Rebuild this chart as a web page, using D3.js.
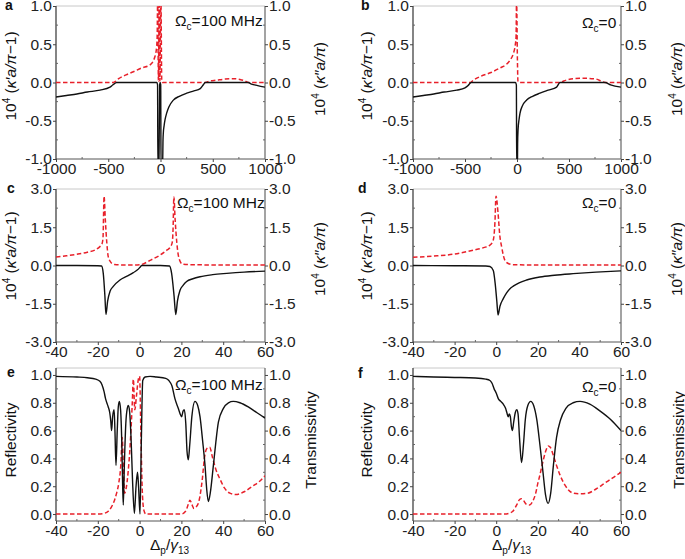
<!DOCTYPE html>
<html><head><meta charset="utf-8">
<script src="https://cdn.jsdelivr.net/npm/d3@7"></script>
<style>body{margin:0;background:#fff}svg{display:block}</style>
</head><body><svg id="c" width="685" height="559"></svg>
<script>
// ---------- tick labels ----------
const kappaXTicks = [-1000, -500, 0, 500, 1000];
const kappaYTicks = [-1, -0.5, 0, 0.5, 1];
const detXTicks = [-40, -20, 0, 20, 40, 60];
const cdYTicks = [-3, -1.5, 0, 1.5, 3];
const efYTicks = [0, 0.2, 0.4, 0.6, 0.8, 1.0];

// ---------- series: [x, y] ----------
const aReal = [[-1000,-0.19],[-900,-0.17],[-800,-0.15],[-700,-0.125],[-579,-0.1],[-483,-0.06],[-455,-0.03],[-435,-0.01],[-420,0],[-300,0],[-100,0],[-35,0],[-28,-0.03],[-25,-1.1],[-15,-1.1],[-8,-0.03],[-3,0],[2,-0.03],[5,-1.1],[20,-1.1],[24,-0.75],[27,-0.66],[35,-0.56],[43,-0.49],[59,-0.40],[80,-0.32],[123,-0.23],[180,-0.18],[251,-0.14],[320,-0.11],[380,-0.08],[410,-0.03],[428,0],[600,0],[840,0],[870,-0.02],[930,-0.04],[1000,-0.06]];
const aImag = [[-1000,0],[-600,0],[-450,0],[-435,0.01],[-400,0.05],[-330,0.1],[-260,0.14],[-180,0.19],[-100,0.23],[-53,0.34],[-37,0.47],[-32,0.6],[-27,1.1],[-20,0.02],[-12,1.1],[-6,0.02],[4,1.1],[12,0.02],[20,0],[100,0],[300,0],[428,0],[460,0.015],[538,0.03],[620,0.045],[697,0.05],[760,0.04],[810,0.02],[840,0],[1000,0]];
const bReal = [[-1000,-0.19],[-900,-0.17],[-800,-0.15],[-700,-0.125],[-579,-0.1],[-500,-0.07],[-470,-0.04],[-452,-0.01],[-440,0],[-300,0],[-100,0],[-15,0],[-6,-0.03],[-3,-1.1],[4,-1.1],[6,-0.8],[10,-0.62],[20,-0.48],[29,-0.40],[50,-0.31],[93,-0.23],[150,-0.18],[221,-0.14],[300,-0.10],[381,-0.06],[413,0],[600,0],[846,0],[900,-0.03],[1000,-0.06]];
const bImag = [[-1000,0],[-600,0],[-450,0],[-420,0.03],[-350,0.08],[-250,0.13],[-163,0.19],[-100,0.24],[-67,0.29],[-35,0.38],[-19,0.47],[-9,0.6],[-4,1.1],[4,0.3],[9,0.02],[20,0],[413,0],[450,0.02],[541,0.05],[650,0.055],[760,0.045],[846,0.0],[1000,0]];
const cReal = [[-40,0.0],[-30,0],[-20,-0.01],[-18.2,-0.02],[-17.4,-0.3],[-16.6,-1.2],[-16.1,-1.92],[-15.3,-1.4],[-14.1,-1.0],[-12.7,-0.83],[-9.4,-0.57],[-6,-0.42],[-3,-0.28],[-1,-0.17],[0.2,-0.07],[1,0],[10,0],[14.3,-0.02],[15.3,-0.3],[16.5,-1.2],[17.3,-1.92],[18.1,-1.4],[19.3,-0.98],[20.8,-0.78],[22.5,-0.63],[25.5,-0.52],[28.9,-0.44],[35,-0.36],[41.7,-0.31],[50,-0.26],[60,-0.22]];
const cImag = [[-40,0.33],[-35,0.38],[-30,0.44],[-25,0.52],[-21,0.62],[-19,0.74],[-18,0.84],[-17.5,1.1],[-17,2.72],[-16.4,1.8],[-15.7,0.9],[-15,0.35],[-13.5,0.1],[-12,0.04],[-8,0.02],[-3,0.02],[0.2,0.03],[5,0.2],[9.8,0.41],[13,0.6],[14.5,0.7],[15.6,0.9],[16,1.4],[16.4,2.7],[17,1.8],[17.8,0.9],[18.8,0.3],[20.4,0.06],[25,0.03],[40,0.02],[60,0.02]];
const dReal = [[-40,0.0],[-20,-0.01],[-5,-0.02],[-3,-0.04],[-1.4,-0.2],[-0.5,-0.7],[0.3,-1.4],[0.9,-1.94],[1.8,-1.6],[3.4,-1.3],[5,-1.07],[6.5,-0.92],[8.2,-0.81],[11,-0.68],[14.6,-0.57],[21,-0.45],[28,-0.38],[37,-0.32],[48,-0.26],[60,-0.21]];
const dImag = [[-40,0.32],[-30,0.37],[-20,0.45],[-11,0.6],[-6,0.7],[-3,0.8],[-1.4,1.0],[-0.6,1.7],[-0.1,2.72],[0.9,2.05],[1.7,1.2],[2.6,0.74],[4.2,0.2],[6,0.07],[8.2,0.03],[20,0.02],[60,0.02]];
const eReal = [[-40,0.99],[-30,0.985],[-25,0.98],[-21,0.97],[-19,0.955],[-18,0.93],[-17,0.88],[-16.3,0.83],[-15.7,0.8],[-15,0.77],[-14.3,0.73],[-13.8,0.67],[-13.4,0.6],[-12.9,0.7],[-12.2,0.75],[-11.8,0.6],[-11.3,0.35],[-10.7,0.6],[-10.2,0.77],[-9.7,0.81],[-9.1,0.75],[-8.5,0.5],[-8.1,0.2],[-7.8,0.065],[-7.3,0.35],[-6.6,0.65],[-5.9,0.76],[-5.4,0.78],[-4.8,0.74],[-4.1,0.55],[-3.4,0.25],[-2.5,0.005],[-1.7,0.2],[-1.0,0.3],[-0.5,0.2],[0.2,0.0],[0.8,0.5],[1.5,0.96],[2.6,0.985],[5,0.99],[8,0.985],[12.5,0.975],[14,0.96],[15.5,0.92],[16.9,0.83],[18.5,0.76],[19.4,0.72],[20.1,0.7],[20.8,0.74],[21.4,0.75],[22.1,0.65],[22.7,0.45],[23.3,0.39],[24,0.5],[25,0.7],[26.5,0.81],[27.8,0.78],[28.9,0.7],[30.2,0.52],[31.3,0.35],[32.1,0.18],[32.9,0.09],[33.8,0.15],[35.3,0.35],[36.5,0.52],[37.7,0.66],[40.1,0.76],[42.5,0.8],[44.8,0.81],[48,0.8],[52,0.77],[56,0.73],[60,0.69]];
const eImag = [[-40,0],[-20,0],[-17,0.005],[-15,0.02],[-13.5,0.05],[-12,0.1],[-11,0.15],[-10,0.22],[-9,0.35],[-8.3,0.55],[-7.8,0.35],[-7.2,0.15],[-6.5,0.18],[-5.5,0.3],[-4.5,0.5],[-3.5,0.8],[-3,0.97],[-2.3,0.75],[-1.5,0.85],[-0.8,0.95],[0,0.99],[0.6,0.6],[1.2,0.2],[2,0.03],[3,0],[20,0],[22,0.02],[23.3,0.07],[24.1,0.1],[25,0.07],[26,0.04],[27,0.05],[28.5,0.1],[30,0.25],[31,0.4],[32.1,0.47],[33.5,0.48],[35,0.4],[36.5,0.32],[38.5,0.25],[40.5,0.19],[43.2,0.15],[46,0.14],[50,0.16],[54,0.2],[57,0.23],[60,0.275]];
const fReal = [[-40,0.99],[-30,0.985],[-20,0.982],[-10,0.978],[-5,0.97],[-3,0.96],[-2,0.94],[-1,0.9],[0,0.87],[1,0.83],[2.2,0.81],[3.4,0.79],[4.5,0.76],[5.3,0.72],[5.8,0.70],[6.3,0.72],[6.8,0.70],[7.3,0.63],[7.8,0.60],[8.4,0.66],[9.2,0.73],[9.9,0.75],[10.5,0.72],[11.2,0.55],[12.2,0.37],[13.1,0.5],[14,0.68],[15.2,0.78],[16.6,0.81],[18,0.78],[19.5,0.68],[21,0.5],[22.5,0.3],[23.7,0.14],[25,0.077],[26.2,0.15],[27.5,0.35],[29,0.55],[31,0.68],[33.5,0.76],[37,0.8],[40.3,0.81],[45,0.79],[50,0.74],[55,0.68],[60,0.6]];
const fImag = [[-40,0],[0,0],[4,0],[6,0.005],[8,0.02],[10,0.07],[11,0.1],[12,0.11],[13,0.1],[14.5,0.07],[16,0.065],[17.5,0.09],[19,0.15],[20,0.22],[21,0.28],[22.5,0.38],[24,0.46],[25,0.49],[26,0.48],[27.5,0.42],[29,0.35],[30.7,0.28],[33,0.21],[37,0.15],[40,0.145],[44,0.15],[48,0.18],[52,0.22],[56,0.26],[60,0.3]];

// ---------- layout ----------
const FONT = "Arial, 'Liberation Sans', Helvetica, sans-serif";
const TICKFONT = "'Liberation Sans Narrow', 'Arial Narrow', Arial, 'Liberation Sans', sans-serif";
const RED = "#e8202a";
const svg = d3.select("#c").style("font-family", FONT);

const panels = [
  {id:"a", L:56, R:265, T:6, B:159, xd:[-1000,1000], yd:[-1,1], xt:kappaXTicks, yt:kappaYTicks, xm:250, ym:0.25, k:aReal, r:aImag, kind:"kappa", om:"100 MHz", letter:[5,10], lab:[16,76,325,79], omPos:[175,26]},
  {id:"b", L:413, R:621, T:6, B:159, xd:[-1000,1000], yd:[-1,1], xt:kappaXTicks, yt:kappaYTicks, xm:250, ym:0.25, k:bReal, r:bImag, kind:"kappa", om:"0", letter:[361,10], lab:[372,76,682,79], omPos:[582,28]},
  {id:"c", L:56, R:265, T:189, B:342, xd:[-40,60], yd:[-3,3], xt:detXTicks, yt:cdYTicks, xm:10, ym:0.75, k:cReal, r:cImag, kind:"kappa", om:"100 MHz", letter:[7,193], lab:[16,256,325,259], omPos:[177,208]},
  {id:"d", L:413, R:621, T:189, B:342, xd:[-40,60], yd:[-3,3], xt:detXTicks, yt:cdYTicks, xm:10, ym:0.75, k:dReal, r:dImag, kind:"kappa", om:"0", letter:[358,193], lab:[372,256,682,259], omPos:[582,208]},
  {id:"e", L:56, R:265, T:368, B:521, xd:[-40,60], yd:[-0.05,1.05], xt:detXTicks, yt:efYTicks, xm:10, ym:0.1, k:eReal, r:eImag, kind:"rt", om:"100 MHz", letter:[7,377], lab:[16,440,316,440], omPos:[175,390], xlab:150},
  {id:"f", L:413, R:621, T:368, B:521, xd:[-40,60], yd:[-0.05,1.05], xt:detXTicks, yt:efYTicks, xm:10, ym:0.1, k:fReal, r:fImag, kind:"rt", om:"0", letter:[358,378], lab:[372,440,684,440], omPos:[582,392], xlab:492}
];

const fmtY = d => d.toFixed(1);
const fmtX = d => String(d);

panels.forEach(p => {
  const x = d3.scaleLinear().domain(p.xd).range([p.L, p.R]);
  const y = d3.scaleLinear().domain(p.yd).range([p.B, p.T]);
  const g = svg.append("g");

  g.append("clipPath").attr("id", "clip-" + p.id)
    .append("rect").attr("x", p.L).attr("y", p.T).attr("width", p.R - p.L).attr("height", p.B - p.T);

  // frame
  g.append("line").attr("x1", p.L).attr("x2", p.R).attr("y1", p.T).attr("y2", p.T).attr("stroke", "#c8c8c8").attr("stroke-width", 1);
  g.append("line").attr("x1", p.L).attr("x2", p.R).attr("y1", p.B).attr("y2", p.B).attr("stroke", "#555").attr("stroke-width", 1);
  g.append("line").attr("x1", p.L).attr("x2", p.L).attr("y1", p.T).attr("y2", p.B).attr("stroke", "#333").attr("stroke-width", 1.2);
  g.append("line").attr("x1", p.R).attr("x2", p.R).attr("y1", p.T).attr("y2", p.B).attr("stroke", "#666").attr("stroke-width", 1.2);

  // axes
  const axB = d3.axisBottom(x).tickValues(p.xt).tickFormat(fmtX).tickSize(3).tickPadding(1);
  const axL = d3.axisLeft(y).tickValues(p.yt).tickFormat(fmtY).tickSize(3).tickPadding(1);
  const axR = d3.axisRight(y).tickValues(p.yt).tickFormat(fmtY).tickSize(3).tickPadding(1);
  [[axB, `translate(0,${p.B})`], [axL, `translate(${p.L},0)`], [axR, `translate(${p.R},0)`]].forEach(([ax, tr]) => {
    const a = g.append("g").attr("transform", tr).call(ax);
    a.select(".domain").remove();
    a.selectAll(".tick line").attr("stroke", "#444");
    a.selectAll("text").attr("font-size", 15.5).attr("fill", "#222").style("font-family", TICKFONT);
  });

  // minor ticks (inward)
  const xMin = d3.range(p.xd[0], p.xd[1] + 1e-9, p.xm).filter(v => !p.xt.some(t => Math.abs(t - v) < 1e-9));
  g.selectAll(null).data(xMin).enter().append("line")
    .attr("x1", d => x(d)).attr("x2", d => x(d)).attr("y1", p.B).attr("y2", p.B - 2).attr("stroke", "#666");
  const y0 = p.kind === "rt" ? 0 : p.yd[0];
  const yMin = d3.range(y0, p.yd[1] + 1e-9, p.ym).filter(v => !p.yt.some(t => Math.abs(t - v) < 1e-9) && v >= p.yd[0]);
  g.selectAll(null).data(yMin).enter().append("line")
    .attr("x1", p.L).attr("x2", p.L + 2).attr("y1", d => y(d)).attr("y2", d => y(d)).attr("stroke", "#666");
  g.selectAll(null).data(yMin).enter().append("line")
    .attr("x1", p.R).attr("x2", p.R - 2).attr("y1", d => y(d)).attr("y2", d => y(d)).attr("stroke", "#666");

  // curves
  const line = d3.line().x(d => x(d[0])).y(d => y(d[1])).curve(d3.curveMonotoneX);
  const cg = g.append("g").attr("clip-path", `url(#clip-${p.id})`);
  cg.append("path").datum(p.r).attr("d", line).attr("fill", "none")
    .attr("stroke", RED).attr("stroke-width", 1.5).attr("stroke-dasharray", "4.5,2.5");
  cg.append("path").datum(p.k).attr("d", line).attr("fill", "none")
    .attr("stroke", "#111").attr("stroke-width", 1.4);

  // panel letter
  g.append("text").attr("x", p.letter[0]).attr("y", p.letter[1]).attr("font-size", 14)
    .attr("font-weight", "bold").attr("fill", "#111").text(p.id);

  // Omega annotation
  const om = g.append("text").attr("x", p.omPos[0]).attr("y", p.omPos[1]).attr("font-size", 15.5).attr("fill", "#111");
  om.append("tspan").text("Ω");
  om.append("tspan").attr("font-size", 10).attr("dy", 4).text("c");
  om.append("tspan").attr("dy", -4).text("=" + p.om);

  // axis labels
  const [lx, ly, rx, ry] = p.lab;
  const tl = g.append("text").attr("transform", `translate(${lx},${ly}) rotate(-90)`)
    .attr("text-anchor", "middle").attr("font-size", 15.5).attr("fill", "#111");
  const tr = g.append("text").attr("transform", `translate(${rx},${ry}) rotate(-90)`)
    .attr("text-anchor", "middle").attr("font-size", 15.5).attr("fill", "#111");
  if (p.kind === "kappa") {
    tl.append("tspan").text("10");
    tl.append("tspan").attr("font-size", 10).attr("dy", -6).text("4");
    tl.append("tspan").attr("dy", 6).text(" (");
    tl.append("tspan").attr("font-style", "italic").text("κ′a/π");
    tl.append("tspan").text("−1)");
    tr.append("tspan").text("10");
    tr.append("tspan").attr("font-size", 10).attr("dy", -6).text("4");
    tr.append("tspan").attr("dy", 6).text(" (");
    tr.append("tspan").attr("font-style", "italic").text("κ″a/π");
    tr.append("tspan").text(")");
  } else {
    tl.text("Reflectivity");
    tr.text("Transmissivity");
    const xl = g.append("text").attr("x", p.xlab).attr("y", 550).attr("font-size", 15.5).attr("fill", "#111");
    xl.append("tspan").text("Δ");
    xl.append("tspan").attr("font-size", 10).attr("dy", 4).text("p");
    xl.append("tspan").attr("dy", -4).text("/");
    xl.append("tspan").attr("font-style", "italic").text("γ");
    xl.append("tspan").attr("font-size", 10).attr("dy", 4).text("13");
  }
});
</script></body></html>
